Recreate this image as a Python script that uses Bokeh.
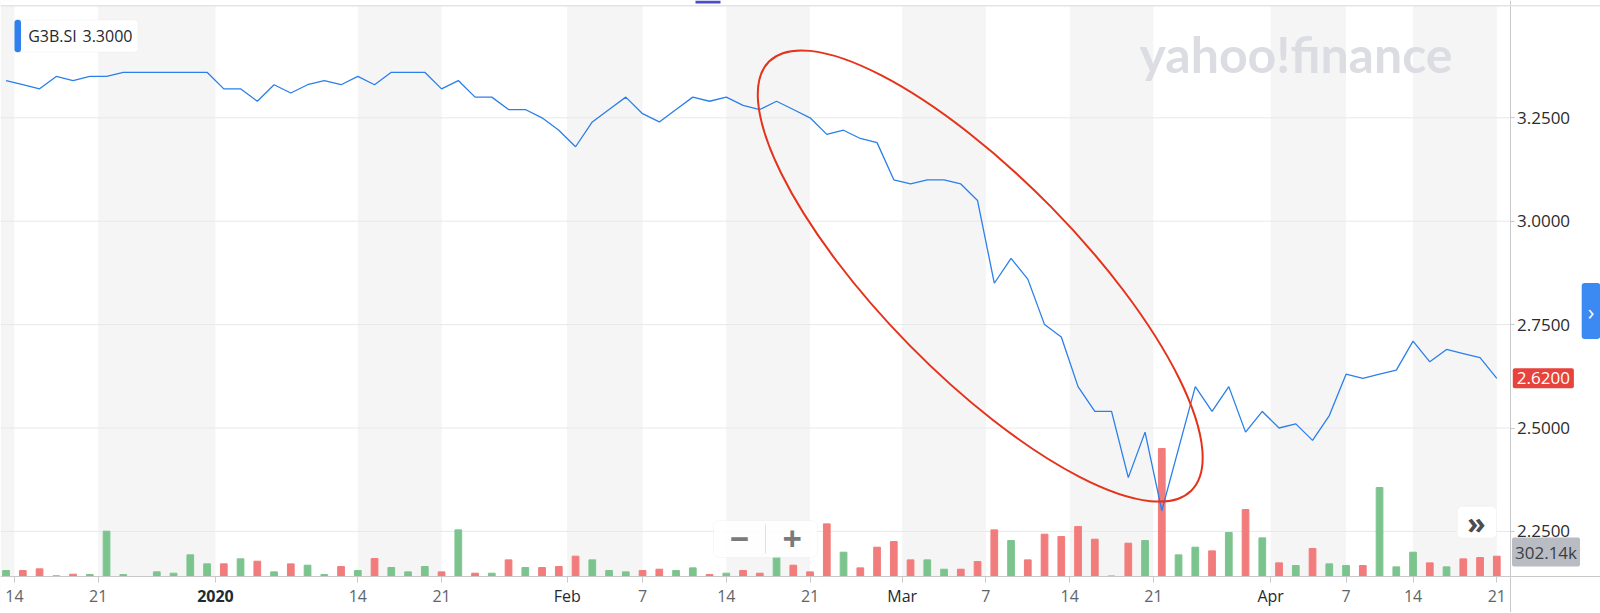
import datetime as dt
from bokeh.plotting import figure
from bokeh.models import Range1d, FixedTicker, BoxAnnotation, Span, Label, ColumnDataSource
from bokeh.embed import file_html
from bokeh.resources import INLINE

# ---------------- data ----------------
symbol = "G3B.SI"
legend_value = 3.30

dates = [
    "2019-12-13", "2019-12-16", "2019-12-17", "2019-12-18", "2019-12-19", "2019-12-20",
    "2019-12-23", "2019-12-24", "2019-12-25", "2019-12-26", "2019-12-27", "2019-12-30", "2019-12-31",
    "2020-01-02", "2020-01-03", "2020-01-06", "2020-01-07", "2020-01-08", "2020-01-09", "2020-01-10",
    "2020-01-13", "2020-01-14", "2020-01-15", "2020-01-16", "2020-01-17", "2020-01-20", "2020-01-21",
    "2020-01-22", "2020-01-23", "2020-01-24", "2020-01-28", "2020-01-29", "2020-01-30", "2020-01-31",
    "2020-02-03", "2020-02-04", "2020-02-05", "2020-02-06", "2020-02-07", "2020-02-10", "2020-02-11",
    "2020-02-12", "2020-02-13", "2020-02-14", "2020-02-17", "2020-02-18", "2020-02-19", "2020-02-20",
    "2020-02-21", "2020-02-24", "2020-02-25", "2020-02-26", "2020-02-27", "2020-02-28",
    "2020-03-02", "2020-03-03", "2020-03-04", "2020-03-05", "2020-03-06", "2020-03-09", "2020-03-10",
    "2020-03-11", "2020-03-12", "2020-03-13", "2020-03-16", "2020-03-17", "2020-03-18", "2020-03-19",
    "2020-03-20", "2020-03-23", "2020-03-24", "2020-03-25", "2020-03-26", "2020-03-27", "2020-03-30",
    "2020-03-31", "2020-04-01", "2020-04-02", "2020-04-03", "2020-04-06", "2020-04-07", "2020-04-08",
    "2020-04-09", "2020-04-13", "2020-04-14", "2020-04-15", "2020-04-16", "2020-04-17", "2020-04-20",
    "2020-04-21",
]

close = [
    3.34, 3.33, 3.32, 3.35, 3.34, 3.35, 3.35, 3.36, 3.36, 3.36,
    3.36, 3.36, 3.36, 3.32, 3.32, 3.29, 3.33, 3.31, 3.33, 3.34,
    3.33, 3.35, 3.33, 3.36, 3.36, 3.36, 3.32, 3.34, 3.30, 3.30,
    3.27, 3.27, 3.25, 3.22, 3.18, 3.24, 3.27, 3.30, 3.26, 3.24,
    3.27, 3.30, 3.29, 3.30, 3.28, 3.27, 3.29, 3.27, 3.25, 3.21,
    3.22, 3.20, 3.19, 3.10, 3.09, 3.10, 3.10, 3.09, 3.05, 2.85,
    2.91, 2.86, 2.75, 2.72, 2.60, 2.54, 2.54, 2.38, 2.49, 2.30,
    2.45, 2.60, 2.54, 2.60, 2.49, 2.54, 2.50, 2.51, 2.47, 2.53,
    2.63, 2.62, 2.63, 2.64, 2.71, 2.66, 2.69, 2.68, 2.67, 2.62,
]

volume = [
    85600, 85600, 110800, 5000, 30200, 25200, 679800, 25200, None, 65500,
    45300, 322300, 186300, 186300, 261900, 226600, 65500, 186300, 166200, 25200,
    146000, 85600, 266900, 130900, 65500, 146000, 65500, 700000, 45300, 45300,
    246700, 130900, 130900, 146000, 302100, 246700, 85600, 65500, 85600, 105700,
    85600, 125900, 25200, 45300, 85600, 45300, 287000, 166200, 65500, 790600,
    362600, 125900, 438100, 523700, 246700, 246700, 105700, 105700, 221600, 700000,
    538800, 246700, 634500, 599200, 750300, 559000, 0, 498500, 538800, 1928700,
    322300, 438100, 382700, 659700, 1007100, 579100, 201400, 161100, 418000, 186300,
    161100, 161100, 1339500, 141000, 362600, 201400, 141000, 261900, 282000, 302140,
]

# 1 = up day (green volume bar), 0 = down day (red)
vol_up = [
    1, 0, 0, 1, 0, 1, 1, 1, None, 1,
    1, 1, 1, 0, 1, 0, 1, 0, 1, 1,
    0, 1, 0, 1, 1, 1, 0, 1, 0, 1,
    0, 1, 0, 0, 0, 1, 1, 1, 0, 0,
    1, 1, 0, 1, 0, 0, 1, 0, 0, 0,
    1, 0, 0, 0, 0, 1, 1, 0, 0, 0,
    1, 0, 0, 0, 0, 0, 0, 0, 1, 0,
    1, 1, 0, 1, 0, 1, 0, 1, 0, 1,
    1, 0, 1, 1, 1, 0, 1, 0, 0, 0,
]

tick_dates = ["2019-12-14", "2019-12-21", "2020-01-01", "2020-01-14", "2020-01-21",
              "2020-02-01", "2020-02-07", "2020-02-14", "2020-02-21", "2020-03-01",
              "2020-03-07", "2020-03-14", "2020-03-21", "2020-04-01", "2020-04-07",
              "2020-04-14", "2020-04-21"]
tick_labels = ["14", "21", "2020", "14", "21", "Feb", "7", "14", "21", "Mar",
               "7", "14", "21", "Apr", "7", "14", "21"]
month_labels = ["2020", "Feb", "Mar", "Apr"]

price_ticks = [2.25, 2.50, 2.75, 3.00, 3.25]

# ---------------- layout (pixel mapping of the reference) ----------------
W, H = 1600, 612
SLOT0_PX, SLOT_PX = 5.55, 16.75          # x pixel of first trading slot, pixels per slot
REF_V, REF_PY, PX_PER_UNIT = 3.25, 117.3, 413.6
X0 = -SLOT0_PX / SLOT_PX
X1 = X0 + W / SLOT_PX
Y1 = REF_V + REF_PY / PX_PER_UNIT
Y0 = Y1 - H / PX_PER_UNIT


def px_x(px):
    return X0 + px / SLOT_PX


def px_y(py):
    return Y1 - py / PX_PER_UNIT


AXIS_X = px_x(1509.5)
AXIS_Y = px_y(575.7)
FONT = "Open Sans"

slots = list(range(len(dates)))
dparsed = [dt.date.fromisoformat(d) for d in dates]


def tick_pos(d, is_month):
    d = dt.date.fromisoformat(d)
    for i, di in enumerate(dparsed):
        if di >= d:
            return float(i) if (di == d and not is_month) else i - 0.5
    return float(len(dparsed))


x_ticks = [tick_pos(d, lab in month_labels) for d, lab in zip(tick_dates, tick_labels)]

p = figure(width=W, height=H, x_range=Range1d(X0, X1), y_range=Range1d(Y0, Y1),
           y_axis_location="right", output_backend="svg", toolbar_location=None,
           min_border=0)
p.outline_line_color = None
p.background_fill_color = "white"
p.border_fill_color = "white"
p.grid.visible = False

# alternating week bands
edges = [None] + x_ticks
for i in range(0, len(edges) - 1, 2):
    p.add_layout(BoxAnnotation(left=edges[i], right=edges[i + 1], fill_color="#f5f5f5",
                               fill_alpha=1.0, line_color=None, level="underlay"))
# horizontal grid lines
for t in price_ticks:
    p.add_layout(Span(location=t, dimension="width", line_color="#e8e8e8",
                      line_width=1, level="underlay"))
# blank areas outside the chart box
p.add_layout(BoxAnnotation(left=AXIS_X, fill_color="white", fill_alpha=1, line_color=None,
                           level="underlay"))
p.add_layout(BoxAnnotation(top=AXIS_Y, fill_color="white", fill_alpha=1, line_color=None,
                           level="underlay"))
p.add_layout(BoxAnnotation(bottom=px_y(4.5), fill_color="white", fill_alpha=1, line_color=None,
                           level="underlay"))
p.add_layout(Span(location=px_y(5.3), dimension="width", line_color="#e3e4e9", line_width=1.6))
p.add_layout(BoxAnnotation(left=px_x(695), right=px_x(720), bottom=px_y(3), fill_color="#4750c4",
                           fill_alpha=1, line_color=None))

# volume bars (own scale: last bar = 20 px tall)
vol_per_px = volume[-1] / 20.0
p.extra_y_ranges = {"vol": Range1d(-(H - 575.7) * vol_per_px, 575.7 * vol_per_px)}
vx, vv, vc = [], [], []
for s, v, u in zip(slots, volume, vol_up):
    if v is None or u is None:
        continue
    vx.append(s)
    vv.append(v)
    vc.append("#7cc48e" if u else "#f27c7c")
p.vbar(x="x", top="v", width=0.4, bottom=0, color="c", y_range_name="vol",
       source=ColumnDataSource(dict(x=vx, v=vv, c=vc)))

# price line
p.line(slots, close, line_color="#2a7fea", line_width=1.3)

# red highlight ellipse
p.ellipse(x=[58.16], y=[2.8675], width=602, height=198, angle=-45.5, angle_units="deg",
          width_units="screen", height_units="screen", fill_color=None,
          line_color="#e5321a", line_width=2)

# axes drawn at fixed positions inside the canvas
ya = p.yaxis[0]
ya.fixed_location = AXIS_X
ya.ticker = FixedTicker(ticks=price_ticks)
ya.major_label_overrides = {t: f"{t:.4f}" for t in price_ticks}
ya.axis_line_color = "#c9c9c9"
ya.major_tick_line_color = "#c9c9c9"
ya.major_tick_out = 4
ya.major_tick_in = 0
ya.minor_tick_line_color = None
ya.major_label_standoff = 3
ya.major_label_text_font = FONT
ya.major_label_text_font_size = "17px"
ya.major_label_text_color = "#2b2b2b"

xa = p.xaxis[0]
xa.fixed_location = AXIS_Y
xa.ticker = FixedTicker(ticks=x_ticks)
xa.major_label_overrides = {t: ("" if lab in month_labels else lab)
                            for t, lab in zip(x_ticks, tick_labels)}
xa.axis_line_color = "#c9c9c9"
xa.major_tick_line_color = "#c9c9c9"
xa.major_tick_out = 6
xa.major_tick_in = 0
xa.minor_tick_line_color = None
xa.major_label_standoff = 8
xa.major_label_text_font = FONT
xa.major_label_text_font_size = "16px"
xa.major_label_text_color = "#5e656c"

for t, lab in zip(x_ticks, tick_labels):
    if lab in month_labels:
        p.add_layout(Label(x=t, y=px_y(595), text=lab, text_align="center",
                           text_baseline="middle", text_font=FONT, text_font_size="16px",
                           text_color="#232a31",
                           text_font_style="bold" if lab == "2020" else "normal"))

# legend box
p.add_layout(BoxAnnotation(left=px_x(14), right=px_x(137.7), top=px_y(19.3), bottom=px_y(51.7),
                           fill_color="white", fill_alpha=1, line_color="#e6e6e6",
                           border_radius=4, level="overlay"))
p.add_layout(BoxAnnotation(left=px_x(14), right=px_x(20.5), top=px_y(19.3), bottom=px_y(51.7),
                           fill_color="#2f80ed", fill_alpha=1, line_color=None,
                           border_radius=3, level="overlay"))
p.add_layout(Label(x=px_x(27.7), y=px_y(35.5), text=symbol, text_baseline="middle",
                   text_font=FONT, text_font_size="16px", text_color="#232a31", level="overlay"))
p.add_layout(Label(x=px_x(82), y=px_y(35.5), text=f"{legend_value:.4f}", text_baseline="middle",
                   text_font=FONT, text_font_size="16px", text_color="#232a31", level="overlay"))

# watermark
p.add_layout(Label(x=px_x(1139), y=px_y(53.3), text="yahoo!finance", text_baseline="alphabetic",
                   text_font="Lato", text_font_style="bold", text_font_size="50px",
                   text_color="#dcdde3"))

# zoom buttons
p.add_layout(BoxAnnotation(left=px_x(713), right=px_x(817), top=px_y(520), bottom=px_y(557),
                           fill_color="white", fill_alpha=0.85, line_color="#e6e6e6",
                           border_radius=6, level="overlay"))
p.add_layout(BoxAnnotation(left=px_x(764.5), right=px_x(765.5), top=px_y(524), bottom=px_y(553),
                           fill_color="#e0e0e0", fill_alpha=1, line_color=None, level="overlay"))
p.add_layout(Label(x=px_x(739), y=px_y(538), text="\u2212", text_align="center",
                   text_baseline="middle", text_font=FONT, text_font_style="bold",
                   text_font_size="34px", text_color="#7a7a7a", level="overlay"))
p.add_layout(Label(x=px_x(791.7), y=px_y(538), text="+", text_align="center",
                   text_baseline="middle", text_font=FONT, text_font_style="bold",
                   text_font_size="34px", text_color="#7a7a7a", level="overlay"))

# ">>" button
p.add_layout(BoxAnnotation(left=px_x(1456.7), right=px_x(1496), top=px_y(505.7), bottom=px_y(537.7),
                           fill_color="white", fill_alpha=1, line_color="#e3e3e3",
                           border_radius=5, level="overlay"))
p.add_layout(Label(x=px_x(1476), y=px_y(521.5), text="\u00bb", text_align="center",
                   text_baseline="middle", text_font=FONT, text_font_style="bold",
                   text_font_size="30px", text_color="#4d4d4d", level="overlay"))

# last price / last volume tags on the axis
p.add_layout(Label(x=px_x(1512.3), y=close[-1], text=f"{close[-1]:.4f}", text_align="left",
                   text_baseline="middle", text_font=FONT, text_font_size="17px",
                   text_color="white", background_fill_color="#e8423c",
                   padding=dict(left=4, right=4, top=4, bottom=4), border_radius=2,
                   level="overlay"))
p.add_layout(Label(x=px_x(1511.5), y=px_y(551.5), text=f"{volume[-1] / 1000:.2f}k",
                   text_align="left", text_baseline="middle", text_font=FONT,
                   text_font_size="17px", text_color="#3a3f45", background_fill_color="#b9bcc3",
                   padding=dict(left=3, right=3, top=3, bottom=3), border_radius=2,
                   level="overlay"))

# blue side button
p.add_layout(Label(x=px_x(1590.5), y=px_y(310.5), text="\u203a", text_align="center",
                   text_baseline="middle", text_font=FONT, text_font_style="normal",
                   text_font_size="22px", text_color="white", background_fill_color="#3b8af3",
                   padding=dict(left=6, right=6, top=13, bottom=13), border_radius=3,
                   level="overlay"))

open("out.html", "w").write(file_html(p, INLINE))
